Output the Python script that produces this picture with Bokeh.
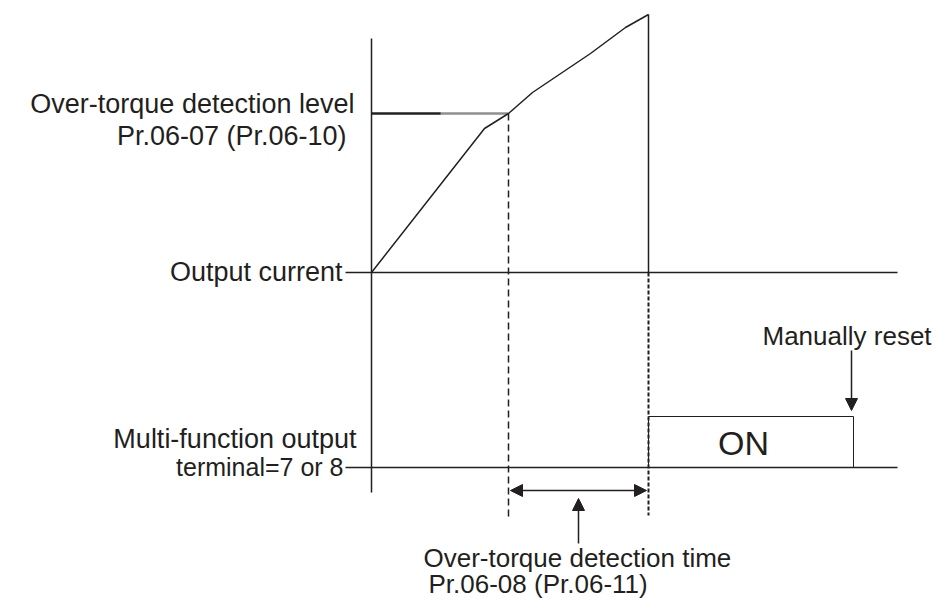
from bokeh.plotting import figure
from bokeh.models import Range1d, Arrow, NormalHead, ColumnDataSource
from bokeh.core.properties import value
from bokeh.embed import file_html
from bokeh.resources import INLINE

INK = "#231f20"
FONT = "Liberation Sans"

# Diagram coordinates (time to the right, level downward in the picture frame)
axis_t = [371, 371]
axis_v = [38, 492]
current_base_t = [345, 897]
current_base_v = [272, 272]
output_base_t = [345, 897]
output_base_v = [467, 467]

current_t = [371, 484, 508, 532, 590, 625, 648]
current_v = [272, 128, 113, 92, 53, 27, 14]

level_solid_t = [371, 440]
level_dot_t = [440, 508]
level_v = [113, 113]

trip_t = [648, 648]
trip_v = [14, 272]

detect_start_t = [508, 508]
detect_start_v = [113, 517]
detect_end_t = [648, 648]
detect_end_v = [272, 515]

on_t = [648, 648, 853, 853]
on_v = [467, 416, 416, 467]

p = figure(width=935, height=600, output_backend="svg", toolbar_location=None,
           x_range=Range1d(0, 935), y_range=Range1d(600, 0), min_border=0)
p.axis.visible = False
p.grid.visible = False
p.outline_line_color = None
p.background_fill_color = "white"
p.border_fill_color = "white"

p.line(axis_t, axis_v, line_color=INK, line_width=1.5)
p.line(current_base_t, current_base_v, line_color=INK, line_width=1.5)
p.line(output_base_t, output_base_v, line_color=INK, line_width=1.5)
p.line(current_t, current_v, line_color=INK, line_width=1.5)
p.line(level_solid_t, level_v, line_color=INK, line_width=2.5)
p.line(level_dot_t, level_v, line_color=INK, line_width=2.5, line_dash="1 1")
p.line(trip_t, trip_v, line_color=INK, line_width=1.5)
p.line(detect_start_t, detect_start_v, line_color=INK, line_width=1.5, line_dash="7 4")
p.line(detect_end_t, detect_end_v, line_color=INK, line_width=2, line_dash="4 2")
p.line(on_t, on_v, line_color=INK, line_width=1)

# arrows
p.add_layout(Arrow(start=NormalHead(size=12, fill_color=INK, line_color=INK),
                   end=NormalHead(size=12, fill_color=INK, line_color=INK),
                   x_start=510, y_start=490, x_end=646, y_end=490,
                   line_color=INK, line_width=1.5))
p.add_layout(Arrow(end=NormalHead(size=12, fill_color=INK, line_color=INK),
                   x_start=578, y_start=543, x_end=578, y_end=498,
                   line_color=INK, line_width=1.5))
p.add_layout(Arrow(end=NormalHead(size=12, fill_color=INK, line_color=INK),
                   x_start=851, y_start=350, x_end=851, y_end=410,
                   line_color=INK, line_width=1.5))

labels_right = dict(
    x=[354, 346, 342, 356],
    y=[103, 135, 271, 438],
    text=["Over-torque detection level", "Pr.06-07 (Pr.06-10)", "Output current",
          "Multi-function output"],
)
p.text(x="x", y="y", text="text", source=ColumnDataSource(labels_right),
       text_align="right", text_baseline="middle", text_font=value(FONT),
       text_font_size="27px", text_color=INK)
p.text(x=[343], y=[466], text=["terminal=7 or 8"], text_align="right",
       text_baseline="middle", text_font=value(FONT), text_font_size="25px",
       text_color=INK)

labels_left = dict(
    x=[762, 423, 428],
    y=[335, 557, 583],
    text=["Manually reset", "Over-torque detection time", "Pr.06-08 (Pr.06-11)"],
)
p.text(x="x", y="y", text="text", source=ColumnDataSource(labels_left),
       text_align="left", text_baseline="middle", text_font=value(FONT),
       text_font_size="26px", text_color=INK)

p.text(x=[743], y=[442], text=["ON"], text_align="center", text_baseline="middle",
       text_font=value(FONT), text_font_size="34px", text_color=INK)

open("out.html", "w").write(file_html(p, INLINE))
